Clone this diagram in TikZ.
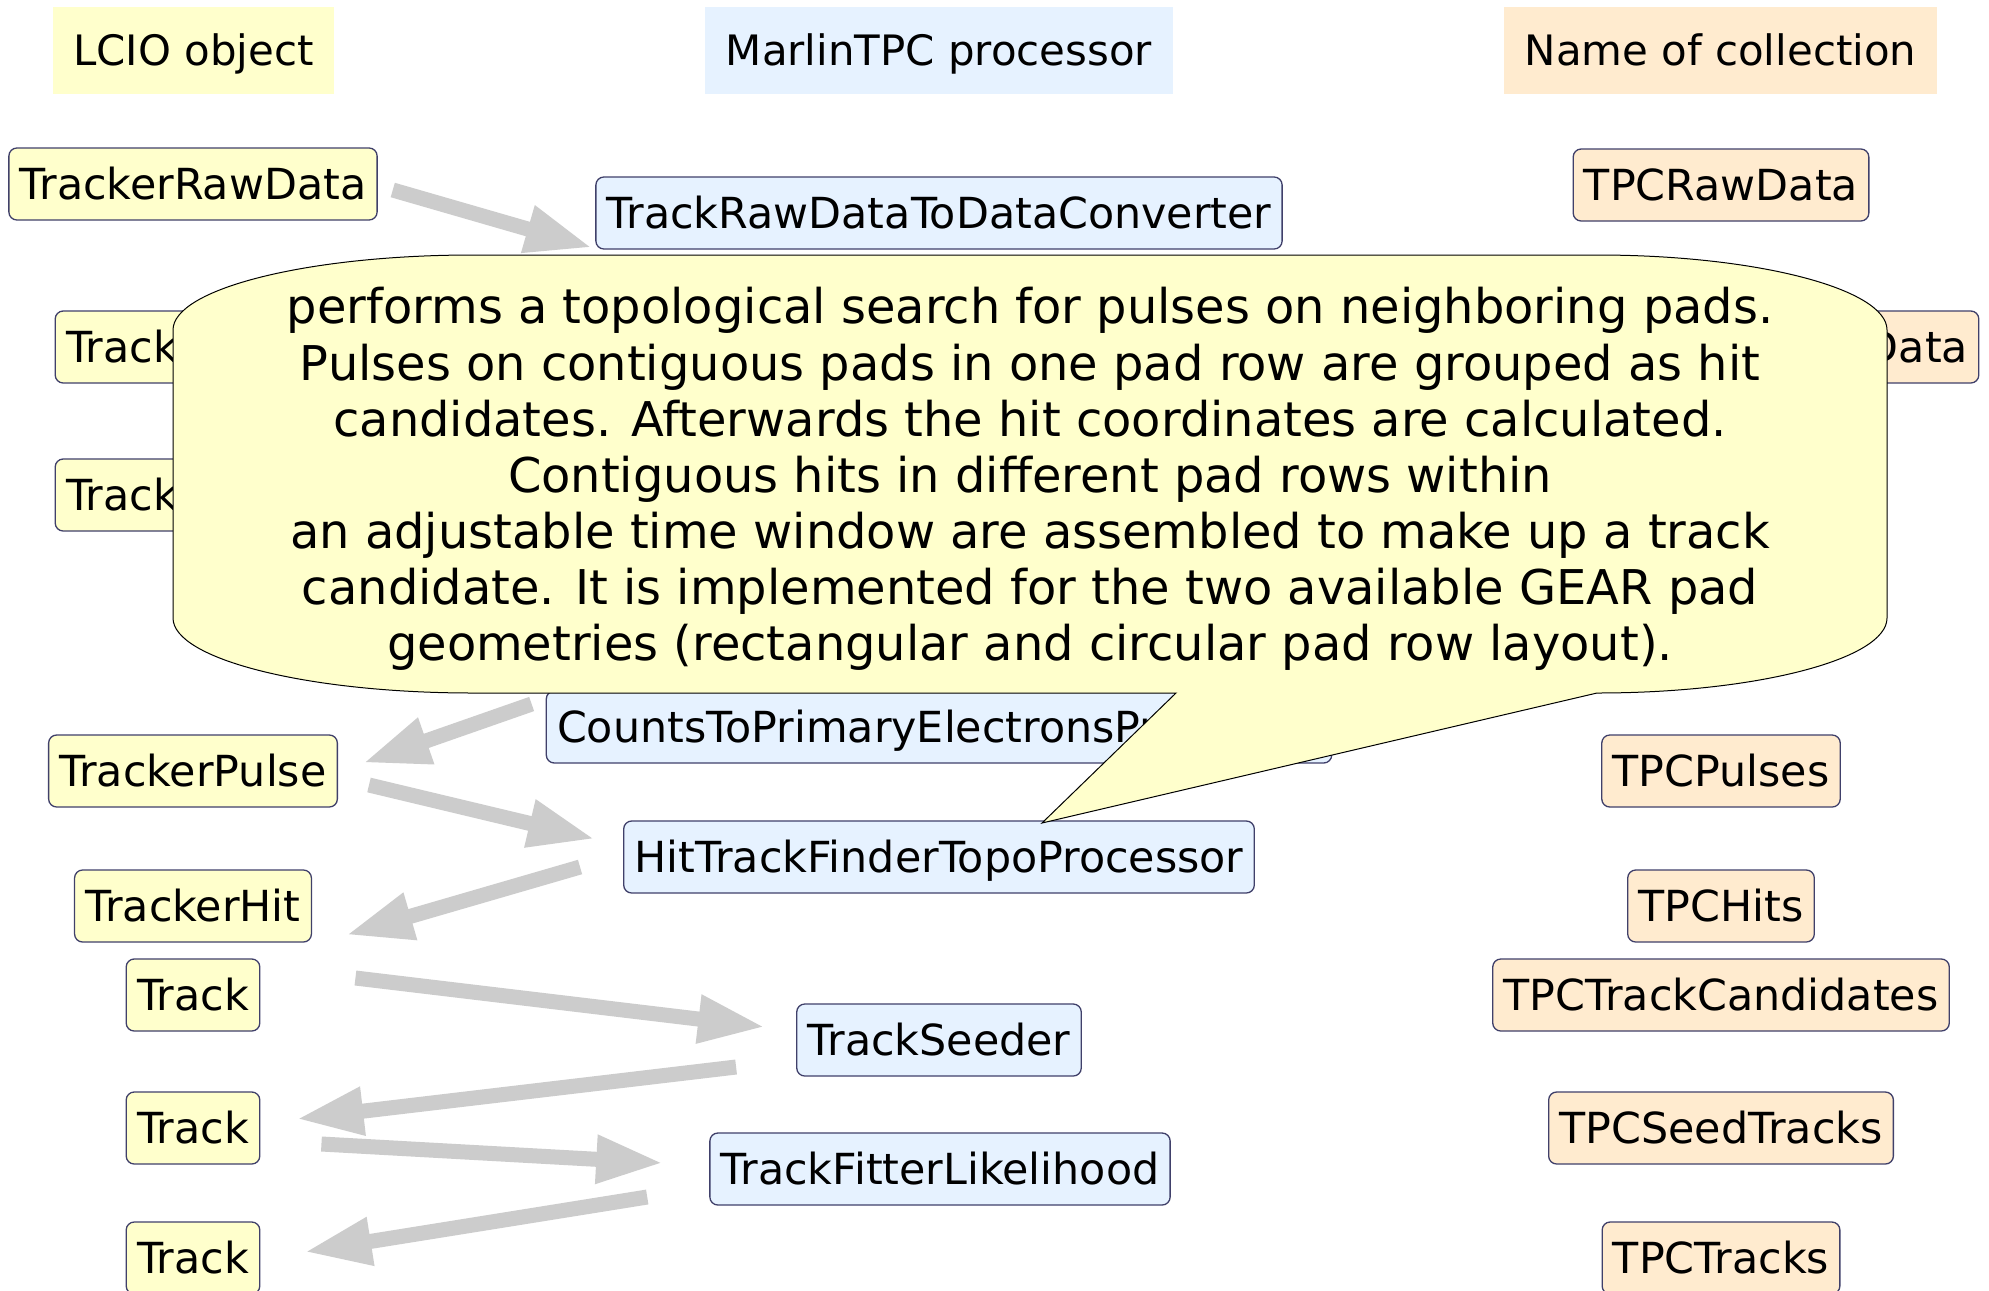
\documentclass[tikz,border=0pt]{standalone}
\usepackage{fontspec}
\setmainfont{DejaVu Sans}
\usetikzlibrary{arrows.meta,calc}
\definecolor{lyel}{HTML}{FFFFCC}
\definecolor{lblue}{HTML}{E6F2FF}
\definecolor{lorange}{HTML}{FFEBCF}
\definecolor{bord}{HTML}{40406A}
\definecolor{arrowgray}{HTML}{CCCCCC}
\begin{document}
\begin{tikzpicture}[x=0.5pt,y=-0.5pt,
 box/.style={draw=bord, line width=0.65pt, rounded corners=4pt, minimum height=36pt,
   inner xsep=5.4pt, inner ysep=0pt, text height=15.6pt, text depth=0pt,
   font=\fontsize{21.4pt}{25pt}\selectfont},
 obj/.style={box, fill=lyel},
 proc/.style={box, fill=lblue},
 coll/.style={box, fill=lorange},
 head/.style={minimum height=43.5pt, inner xsep=10.25pt, inner ysep=0pt,
   text height=15.3pt, text depth=0pt, font=\fontsize{20.95pt}{25pt}\selectfont},
 flow/.style={draw=arrowgray, line width=7.5pt, -{Triangle[width=22.5pt,length=33.5pt]}},
]
\useasboundingbox (0,0) rectangle (1989,1290);
\fill[white] (0,0) rectangle (1989,1290);

% headers
\node[head, fill=lyel] (hobj) at (193.5,50.5) {LCIO object};
\node[head, fill=lblue] (hproc) at (939,50.5) {MarlinTPC processor};
\node[head, fill=lorange] (hcoll) at (1720.5,50.5) {Name of collection};

% LCIO objects
\node[obj] (obj1) at (193,184) {TrackerRawData};
\node[obj, text width=127pt, align=left] (obj2) at (193,347) {Track};
\node[obj, text width=127pt, align=left] (obj3) at (193,495) {Track};
\node[obj] (obj4) at (193,771) {TrackerPulse};
\node[obj] (obj5) at (193,906) {TrackerHit};
\node[obj] (obj6) at (193,995) {Track};
\node[obj] (obj7) at (193,1128) {Track};
\node[obj] (obj8) at (193,1258) {Track};

% processors
\node[proc] (p1) at (939,213) {TrackRawDataToDataConverter};
\node[proc] (p2) at (939,727) {CountsToPrimaryElectronsProcessor};
\node[proc] (p3) at (939,857) {HitTrackFinderTopoProcessor};
\node[proc] (p4) at (939,1040) {TrackSeeder};
\node[proc] (p5) at (940,1169) {TrackFitterLikelihood};

% collections
\node[coll] (c1) at (1721,185) {TPCRawData};
\node[coll, text width=247pt, align=right] (c2) at (1721,347) {Data};
\node[coll] (c4) at (1721,771) {TPCPulses};
\node[coll] (c5) at (1721,906) {TPCHits};
\node[coll] (c6) at (1721,995) {TPCTrackCandidates};
\node[coll] (c7) at (1721,1128) {TPCSeedTracks};
\node[coll] (c8) at (1721,1258) {TPCTracks};

% flow arrows
\draw[flow] ($(obj1.east)+(15,6)$) -- ($(p1.south west)+(-3,-2)$);
\draw[flow] ($(p2.west)+(-14,-23)$) -- ($(obj4.east)+(25,-8)$);
\draw[flow] ($(obj4.east)+(31,14)$) -- ($(p3.west)+(-28,-18)$);
\draw[flow] ($(p3.west)+(-43,10)$) -- ($(obj5.east)+(34,29)$);
\draw[flow] ($(obj6.east)+(95,-17)$) -- ($(p4.west)+(-31,-13)$);
\draw[flow] ($(p4.west)+(-60,27)$) -- ($(obj7.east)+(36,-9)$);
\draw[flow] ($(obj7.east)+(61,16)$) -- ($(p5.west)+(-46,-6)$);
\draw[flow] ($(p5.west)+(-62,28)$) -- ($(obj8.east)+(44,-6)$);

% callout
\coordinate (tip) at (1042,823);
\draw[fill=lyel, draw=black, line width=0.5pt]
  (473,255) -- (1597,255)
  .. controls (1757,255) and (1887,289) .. (1887,330)
  -- (1887,618)
  .. controls (1887,659) and (1757,693) .. (1597,693)
  -- (tip) -- (1176,693) -- (473,693)
  .. controls (307,693) and (173,659) .. (173,618)
  -- (173,330)
  .. controls (173,289) and (307,255) .. (473,255) -- cycle;
\node[align=center, inner sep=0pt, font=\fontsize{23.95pt}{28.05pt}\selectfont] (note) at (1030,479)
 {performs a topological search for pulses on neighboring pads.\\
  Pulses on contiguous pads in one pad row are grouped as hit\\
  candidates. Afterwards the hit coordinates are calculated.\\
  Contiguous hits in different pad rows within\\
  an adjustable time window are assembled to make up a track\\
  candidate. It is implemented for the two available GEAR pad\\
  geometries (rectangular and circular pad row layout).};
\end{tikzpicture}
\end{document}
